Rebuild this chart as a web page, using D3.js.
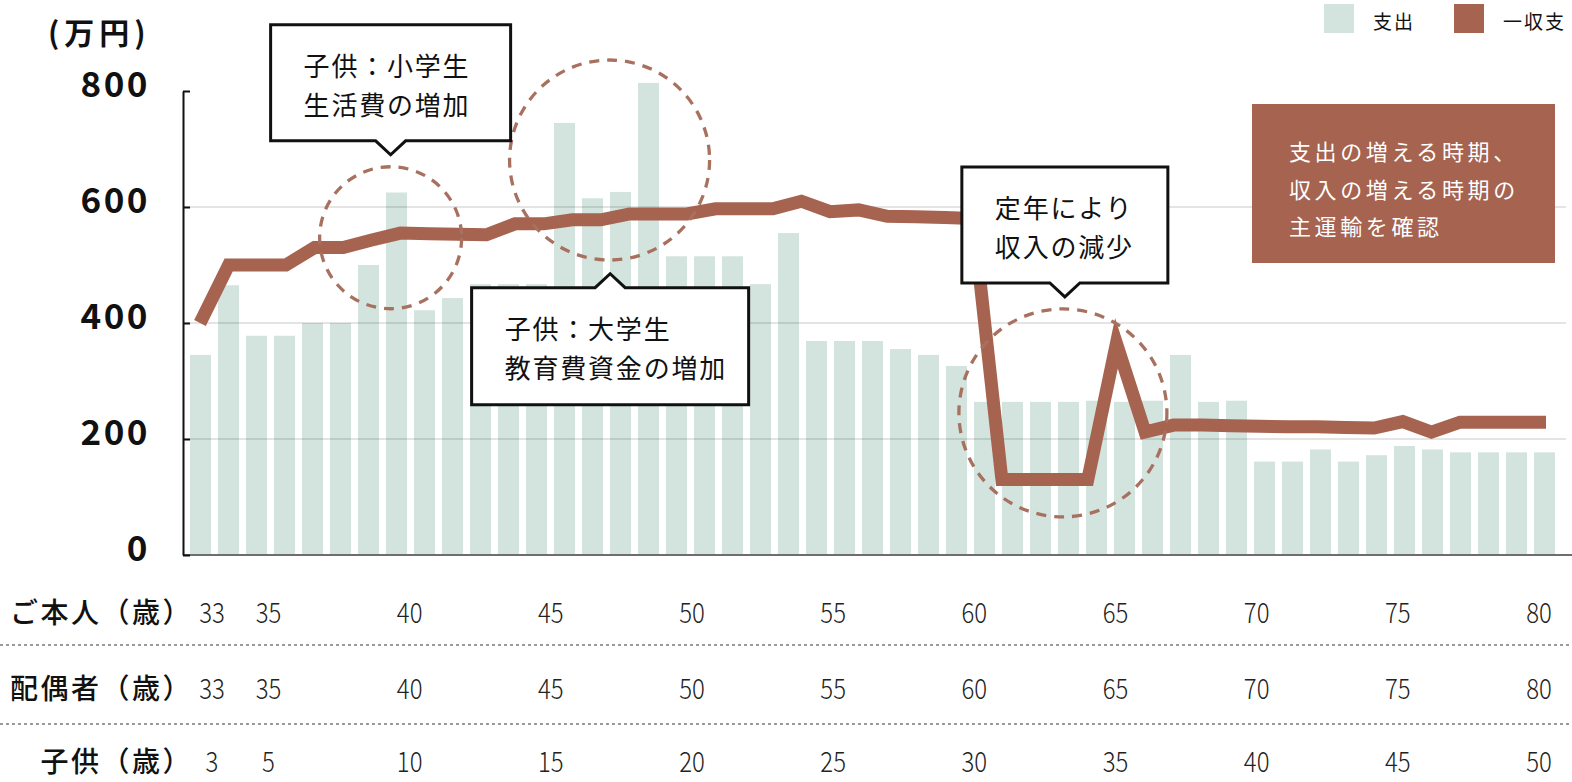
<!DOCTYPE html>
<html><head><meta charset="utf-8">
<script src="https://cdn.jsdelivr.net/npm/d3@7"></script>
<style>
html,body{margin:0;padding:0;background:#fff;}
svg{display:block;font-family:"Noto Sans CJK JP","Noto Sans",sans-serif;}
</style></head><body>
<svg id="chart" width="1572" height="782"></svg>
<script>
// ---------- data ----------
const barAges = [33,34,35,36,37,38,39,40,41,42,43,44,45,46,47,48,49,50,51,52,53,54,55,56,57,58,59,60,61,62,63,64,65,66,67,68,69,70,71,72,73,74,75,76,77,78,79,80,81];
const expense = [345,465,378,378,400,400,500,625,422,443,467,467,467,745,615,626,814,515,515,515,467,555,369,369,369,355,345,326,264,264,264,264,266,264,266,345,264,266,161,161,182,161,172,188,182,177,177,177,177];
const lineAges = [33,34,35,36,37,38,39,40,41,42,43,44,45,46,47,48,49,50,51,52,53,54,55,56,57,58,59,60,61,62,63,64,65,66,67,68,69,70,71,72,73,74,75,76,77,78,79,80];
const balance = [400,500,500,500,530,530,543,555,554,553,552,571,571,578,578,588,588,588,597,597,597,610,592,595,584,583,582,580,130,130,130,130,365,212,224,224,223,222,221,221,220,219,230,212,229,229,229,229];
const yTicks = [0,200,400,600,800];
const gridValues = [200,400,600];
const selfAges = [33,35,40,45,50,55,60,65,70,75,80];
const spouseAges = [33,35,40,45,50,55,60,65,70,75,80];
const childAges = [3,5,10,15,20,25,30,35,40,45,50];
const rowLabels = ["ご本人（歳）","配偶者（歳）","子供（歳）"];
const legendItems = ["支出","一収支"];
const unitLabel = "(万円)";
const noteLines = ["支出の増える時期、","収入の増える時期の","主運輸を確認"];
const callouts = [
  {age:39.79, value:690, dir:"down", w:240, h:116, lines:["子供：小学生","生活費の増加"]},
  {age:47.63, value:485, dir:"up",   w:277, h:117, lines:["子供：大学生","教育費資金の増加"]},
  {age:63.87, value:445, dir:"down", w:206, h:116, lines:["定年により","収入の減少"]}
];
const rings = [
  {age:39.79, value:547, r:71},
  {age:47.61, value:681, r:100},
  {age:63.80, value:245, r:104}
];

// ---------- colours ----------
const barColor = "#d3e3de";
const brown = "#a6634f";
const ringColor = "#a8705e";

// ---------- scales ----------
const svg = d3.select("#chart");
const FONT = '"Noto Sans CJK JP","Noto Sans",sans-serif';
const y = d3.scaleLinear().domain([0,800]).range([555,91]);
const xBar = d3.scaleBand().domain(barAges).range([186.5,1558.5]).paddingInner(0.25).paddingOuter(0.125);
const bw = xBar.bandwidth();
const xLine = d3.scalePoint().domain(lineAges).range([200,1546]);
const xLabel = d3.scaleLinear().domain([33,80]).range([212,1539]);
const xAge = d3.scaleLinear().domain([33,81]).range([xBar(33)+bw/2, xBar(81)+bw/2]);
const axisX = 183;

// ---------- bars ----------
svg.append("g").selectAll("rect").data(expense).join("rect")
  .attr("x",(d,i)=>xBar(barAges[i])).attr("y",d=>y(d))
  .attr("width",bw).attr("height",d=>y(0)-y(d)).attr("fill",barColor);

// ---------- grid ----------
svg.append("g").selectAll("line").data(gridValues).join("line")
  .attr("x1",axisX).attr("x2",1566).attr("y1",d=>y(d)).attr("y2",d=>y(d))
  .attr("stroke","#000").attr("stroke-opacity",0.14).attr("stroke-width",1.5);

// baseline
svg.append("line").attr("x1",axisX).attr("x2",1572).attr("y1",y(0)).attr("y2",y(0))
  .attr("stroke","#6e6e6e").attr("stroke-width",2);

// ---------- y axis ----------
const gy = svg.append("g").attr("transform",`translate(${axisX},0)`)
  .call(d3.axisLeft(y).tickValues(yTicks).tickSizeInner(-7).tickSizeOuter(0).tickPadding(33));
gy.select(".domain").attr("stroke","#111").attr("stroke-width",2);
gy.selectAll(".tick line").attr("stroke","#111").attr("stroke-width",2);
gy.selectAll(".tick text").attr("font-size",35).attr("font-weight",700)
  .attr("font-family",FONT).attr("letter-spacing","2.5px").attr("fill","#111").attr("dy","0.16em");

svg.append("text").attr("x",48).attr("y",31).attr("dominant-baseline","central")
  .attr("font-size",30).attr("font-weight",700)
  .attr("letter-spacing","5px").attr("fill","#111").text(unitLabel);

// ---------- line ----------
const lineGen = d3.line().x((d,i)=>xLine(lineAges[i])).y(d=>y(d));
svg.append("path").datum(balance).attr("d",lineGen).attr("fill","none")
  .attr("stroke",brown).attr("stroke-width",13).attr("stroke-linejoin","miter")
  .attr("stroke-miterlimit",10).attr("stroke-linecap","butt");

// ---------- dashed rings ----------
svg.append("g").selectAll("circle").data(rings).join("circle")
  .attr("cx",d=>xAge(d.age)).attr("cy",d=>y(d.value)).attr("r",d=>d.r)
  .attr("fill","none").attr("stroke",ringColor).attr("stroke-width",3.3)
  .attr("stroke-dasharray","10,8");

// ---------- callouts ----------
const ph = 14, pw = 15;
callouts.forEach(c=>{
  const tx = xAge(c.age), ty = y(c.value);
  let x0 = tx - c.w/2, x1 = tx + c.w/2, y0, y1, d;
  if(c.dir==="down"){
    y1 = ty - ph; y0 = y1 - c.h;
    d = `M${x0},${y0}H${x1}V${y1}H${tx+pw}L${tx},${ty}L${tx-pw},${y1}H${x0}Z`;
  } else {
    y0 = ty + ph; y1 = y0 + c.h;
    d = `M${x0},${y0}H${tx-pw}L${tx},${ty}L${tx+pw},${y0}H${x1}V${y1}H${x0}Z`;
  }
  svg.append("path").attr("d",d).attr("fill","#fff").attr("stroke","#111").attr("stroke-width",3);
  c.lines.forEach((t,i)=>{
    svg.append("text").attr("x",x0+33).attr("y",y0+40+i*38.5)
      .attr("dominant-baseline","central").attr("font-size",26)
      .attr("letter-spacing","1.8px").attr("fill","#111").text(t);
  });
});

// ---------- note box ----------
const note = svg.append("g").attr("transform","translate(1252,104)");
note.append("rect").attr("width",303).attr("height",159).attr("fill",brown);
noteLines.forEach((t,i)=>{
  note.append("text").attr("x",37).attr("y",46+i*37.5).attr("dominant-baseline","central")
    .attr("font-size",22).attr("letter-spacing","3.6px").attr("fill","#fff").text(t);
});

// ---------- legend ----------
const lg = svg.append("g").attr("transform","translate(1324,4)");
legendItems.forEach((t,i)=>{
  const g = lg.append("g").attr("transform",`translate(${i*130},0)`);
  g.append("rect").attr("width",30).attr("height",29).attr("fill",i===0?barColor:brown);
  g.append("text").attr("x",49).attr("y",16).attr("dominant-baseline","central")
    .attr("font-size",19).attr("letter-spacing","2px").attr("fill","#111").text(t);
});

// ---------- age table ----------
const rows = [selfAges, spouseAges, childAges];
const rowY = [611, 687, 760];
rows.forEach((vals,r)=>{
  svg.append("text").attr("x",193).attr("y",rowY[r]).attr("text-anchor","end")
    .attr("dominant-baseline","central").attr("font-size",28).attr("font-weight",500)
    .attr("letter-spacing","2.5px")
    .attr("fill","#111").text(rowLabels[r]);
  svg.append("g").selectAll("text").data(vals).join("text")
    .attr("x",(d,i)=>xLabel(selfAges[i])).attr("y",rowY[r]).attr("text-anchor","middle")
    .attr("dominant-baseline","central").attr("font-size",28).attr("font-weight",300)
    .attr("fill","#222")
    .attr("textLength",d=>String(d).length*12.8).attr("lengthAdjust","spacingAndGlyphs")
    .text(d=>d);
});
svg.append("g").selectAll("line").data([645,724]).join("line")
  .attr("x1",0).attr("x2",1572).attr("y1",d=>d).attr("y2",d=>d)
  .attr("stroke","#9a9a9a").attr("stroke-width",2).attr("stroke-dasharray","3,3");
</script>
</body></html>
